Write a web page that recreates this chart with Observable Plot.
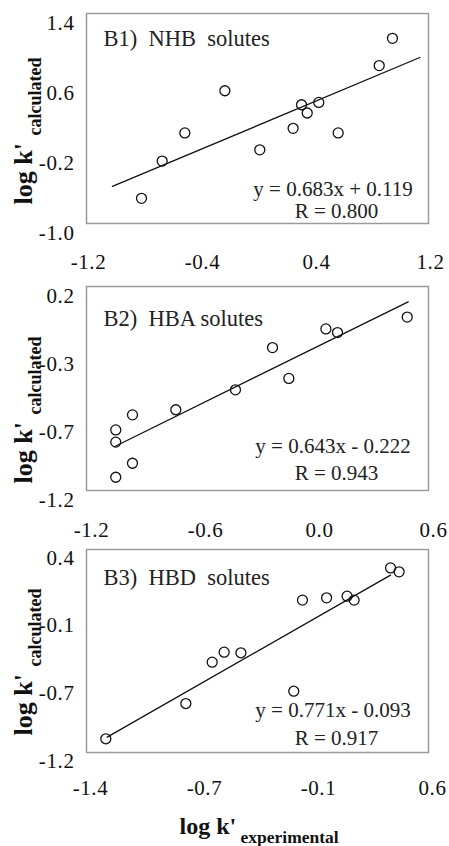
<!DOCTYPE html>
<html><head><meta charset="utf-8">
<script src="https://cdn.jsdelivr.net/npm/d3@7"></script>
<script src="https://cdn.jsdelivr.net/npm/@observablehq/plot@0.6"></script>
<style>
body{margin:0;background:#fff;}
#chart{position:relative;width:449px;height:846px;overflow:hidden;}
#chart svg{display:block;position:absolute;left:0;}
g[aria-label="x-axis tick label"] text, g[aria-label="y-axis tick label"] text{letter-spacing:0.6px;}
g[aria-label="panel-title"] text{letter-spacing:0.5px;}
g[aria-label="equation"] text{letter-spacing:0.9px;}
g[aria-label="ytitle-main"] text{letter-spacing:1px;}
</style></head><body><div id="chart"></div>
<script>
// ---- Panel B1: NHB solutes ----
const b1Title = "B1)\u00a0 NHB\u00a0 solutes";
const b1X = [0.947, 0.854, -0.229, 0.309, 0.430, 0.349, -0.510, 0.250, 0.566, 0.016, -0.669, -0.814];
const b1Y = [1.116, 0.805, 0.517, 0.357, 0.384, 0.263, 0.035, 0.088, 0.035, -0.158, -0.287, -0.712];
const b1Slope = 0.683, b1Intercept = 0.119, b1FitX = [-1.018, 1.139];
const b1Eq = "y = 0.683x + 0.119", b1R = "R = 0.800";
const b1XDomain = [-1.2, 1.2], b1YDomain = [-1.0, 1.4];
const b1XLabels = ["-1.2", "-0.4", "0.4", "1.2"];
const b1YLabels = ["-1.0", "-0.2", "0.6", "1.4"];

// ---- Panel B2: HBA solutes ----
const b2Title = "B2)\u00a0 HBA solutes";
const b2X = [0.488, 0.060, 0.121, -0.221, -0.135, -0.416, -0.730, -0.958, -1.046, -1.046, -0.958, -1.046];
const b2Y = [-0.010, -0.091, -0.116, -0.219, -0.431, -0.509, -0.646, -0.681, -0.784, -0.868, -1.013, -1.109];
const b2Slope = 0.643, b2Intercept = -0.222, b2FitX = [-1.051, 0.493];
const b2Eq = "y = 0.643x - 0.222", b2R = "R = 0.943";
const b2XDomain = [-1.2, 0.6], b2YDomain = [-1.2, 0.2];
const b2XLabels = ["-1.2", "-0.6", "0.0", "0.6"];
const b2YLabels = ["-1.2", "-0.7", "-0.3", "0.2"];

// ---- Panel B3: HBD solutes ----
const b3Title = "B3)\u00a0 HBD\u00a0 solutes";
const b3X = [0.378, 0.428, -0.137, 0.004, 0.124, 0.165, -0.595, -0.497, -0.665, -0.188, -0.819, -1.287];
const b3Y = [0.255, 0.224, 0.001, 0.019, 0.032, 0.001, -0.409, -0.414, -0.488, -0.717, -0.814, -1.092];
const b3Slope = 0.771, b3Intercept = -0.093, b3FitX = [-1.279, 0.378];
const b3Eq = "y = 0.771x - 0.093", b3R = "R = 0.917";
const b3XDomain = [-1.4, 0.6], b3YDomain = [-1.2, 0.4];
const b3XLabels = ["-1.4", "-0.7", "-0.1", "0.6"];
const b3YLabels = ["-1.2", "-0.7", "-0.1", "0.4"];

const yTitleMain = "log k'", yTitleSub = "calculated";
const xTitleMain = "log k'", xTitleSub = "experimental";

const FONT = "'Liberation Serif', 'Times New Roman', serif";

function evenTicks(domain, n) {
  return d3.range(n).map(i => domain[0] + i * (domain[1] - domain[0]) / (n - 1));
}
function labeler(ticks, labels) {
  return d => labels[ticks.findIndex(t => Math.abs(t - d) < 1e-9)];
}

const panels = [
  {title: b1Title, xs: b1X, ys: b1Y, m: b1Slope, b: b1Intercept, fitX: b1FitX, eq: b1Eq, r: b1R,
   xd: b1XDomain, yd: b1YDomain, xl: b1XLabels, yl: b1YLabels,
   top: 0, height: 285, mt: 13, fh: 210, xPad: 31, xdx: 2, ydy: 10, titleDy: 32, eqDy: -28, rDy: -6, ytDy: 86, last: false},
  {title: b2Title, xs: b2X, ys: b2Y, m: b2Slope, b: b2Intercept, fitX: b2FitX, eq: b2Eq, r: b2R,
   xd: b2XDomain, yd: b2YDomain, xl: b2XLabels, yl: b2YLabels,
   top: 265, height: 290, mt: 21, fh: 204, xPad: 32, xdx: 5, ydy: 9.5, titleDy: 39, eqDy: -38, rDy: -11, ytDy: 95, last: false},
  {title: b3Title, xs: b3X, ys: b3Y, m: b3Slope, b: b3Intercept, fitX: b3FitX, eq: b3Eq, r: b3R,
   xd: b3XDomain, yd: b3YDomain, xl: b3XLabels, yl: b3YLabels,
   top: 535, height: 311, mt: 14, fh: 203, xPad: 28, xdx: 4, ydy: 8.5, titleDy: 35, eqDy: -36, rDy: -8, ytDy: 84.5, last: true}
];

const chart = document.getElementById("chart");

for (const p of panels) {
  const pts = p.xs.map((x, i) => ({x, y: p.ys[i]}));
  const fit = p.fitX.map(x => ({x, y: p.m * x + p.b}));
  const xt = evenTicks(p.xd, p.xl.length);
  const yt = evenTicks(p.yd, p.yl.length);
  const marks = [
    Plot.frame({stroke: "#9a9a9a", strokeWidth: 1.5}),
    Plot.axisX({ticks: xt, tickFormat: labeler(xt, p.xl), tickSize: 0, tickPadding: p.xPad, dx: p.xdx, fontSize: 21, label: null}),
    Plot.axisY({ticks: yt, tickFormat: labeler(yt, p.yl), tickSize: 0, tickPadding: 12, dy: p.ydy, fontSize: 21, label: null}),
    Plot.line(fit, {x: "x", y: "y", stroke: "#111", strokeWidth: 1.3}),
    Plot.dot(pts, {x: "x", y: "y", r: 5, stroke: "#111", strokeWidth: 1.3, fill: "none"}),
    Plot.text([p.title], {frameAnchor: "top-left", textAnchor: "start", lineAnchor: "bottom", dx: 17, dy: p.titleDy, fontSize: 22.5, fill: "#222", ariaLabel: "panel-title"}),
    Plot.text([p.eq], {frameAnchor: "bottom-right", textAnchor: "middle", lineAnchor: "bottom", dx: -95.5, dy: p.eqDy, fontSize: 21, fill: "#222", ariaLabel: "equation"}),
    Plot.text([p.r], {frameAnchor: "bottom-right", textAnchor: "middle", lineAnchor: "bottom", dx: -92, dy: p.rDy, fontSize: 21, fill: "#222", ariaLabel: "equation"}),
    Plot.text([yTitleMain], {frameAnchor: "left", rotate: -90, textAnchor: "start", lineAnchor: "bottom", dx: -55, dy: p.ytDy, fontSize: 26, fontWeight: "bold", fill: "#111", ariaLabel: "ytitle-main"}),
    Plot.text([yTitleSub], {frameAnchor: "left", rotate: -90, textAnchor: "start", lineAnchor: "bottom", dx: -46, dy: p.ytDy - 69, fontSize: 18, fontWeight: "bold", fill: "#111"})
  ];
  if (p.last) {
    marks.push(
      Plot.text([xTitleMain], {frameAnchor: "bottom-left", textAnchor: "start", lineAnchor: "bottom", dx: 93, dy: 81, fontSize: 24, fontWeight: "bold", fill: "#111"}),
      Plot.text([xTitleSub], {frameAnchor: "bottom-left", textAnchor: "start", lineAnchor: "bottom", dx: 154, dy: 90, fontSize: 17.5, fontWeight: "bold", fill: "#111"})
    );
  }
  const svg = Plot.plot({
    width: 449,
    height: p.height,
    marginTop: p.mt,
    marginBottom: p.height - p.mt - p.fh,
    marginLeft: 86,
    marginRight: 21,
    style: {fontFamily: FONT, fontSize: "21px", color: "#111", background: "transparent"},
    x: {domain: p.xd},
    y: {domain: p.yd},
    marks
  });
  svg.style.top = p.top + "px";
  chart.appendChild(svg);
}
</script></body></html>
